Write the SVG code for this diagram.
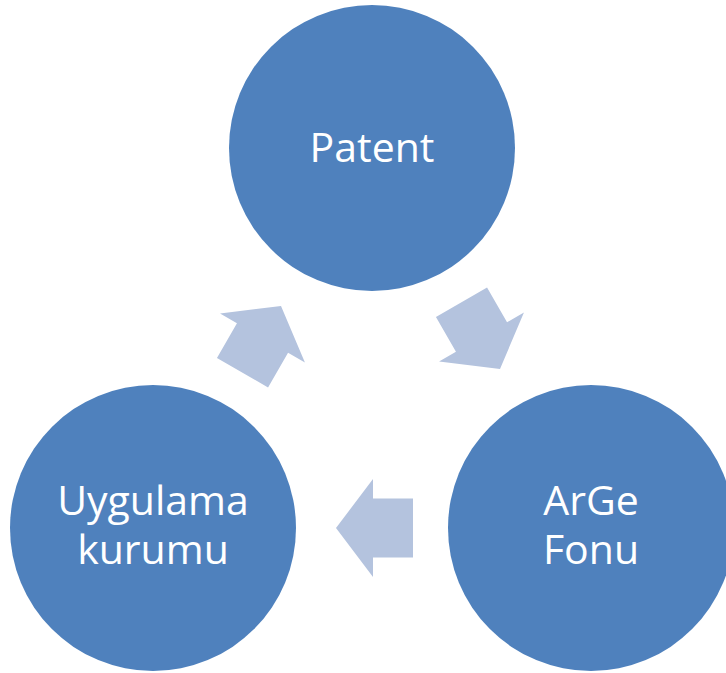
<svg xmlns="http://www.w3.org/2000/svg" width="726" height="673" viewBox="0 0 726 673">
  <defs>
    <style>
      .node { fill: #4F81BD; }
      .lbl { fill: #FFFFFF; font-family: "Open Sans", "Liberation Sans", sans-serif; font-size: 41px; text-anchor: middle; }
      .arrow { fill: #B4C3DE; }
    </style>
    <polygon id="blockArrow" points="0,0 -37,-49 -37,-29.5 -77,-29.5 -77,29.5 -37,29.5 -37,49"/>
  </defs>
  <rect width="726" height="673" fill="#FFFFFF"/>
  <g id="connectors">
    <use href="#blockArrow" class="arrow" transform="translate(500,369) rotate(60)"/>
    <use href="#blockArrow" class="arrow" transform="translate(336,528) rotate(180)"/>
    <use href="#blockArrow" class="arrow" transform="translate(281,306) rotate(-60)"/>
  </g>
  <g id="node-patent">
    <circle class="node" cx="372" cy="148" r="143"/>
    <text class="lbl" x="372" y="162">Patent</text>
  </g>
  <g id="node-arge">
    <circle class="node" cx="591" cy="528" r="143"/>
    <text class="lbl"><tspan x="591" y="515">ArGe</tspan><tspan x="591" y="564">Fonu</tspan></text>
  </g>
  <g id="node-uygulama">
    <circle class="node" cx="153" cy="528" r="143"/>
    <text class="lbl"><tspan x="153" y="515">Uygulama</tspan><tspan x="153" y="564">kurumu</tspan></text>
  </g>
</svg>
